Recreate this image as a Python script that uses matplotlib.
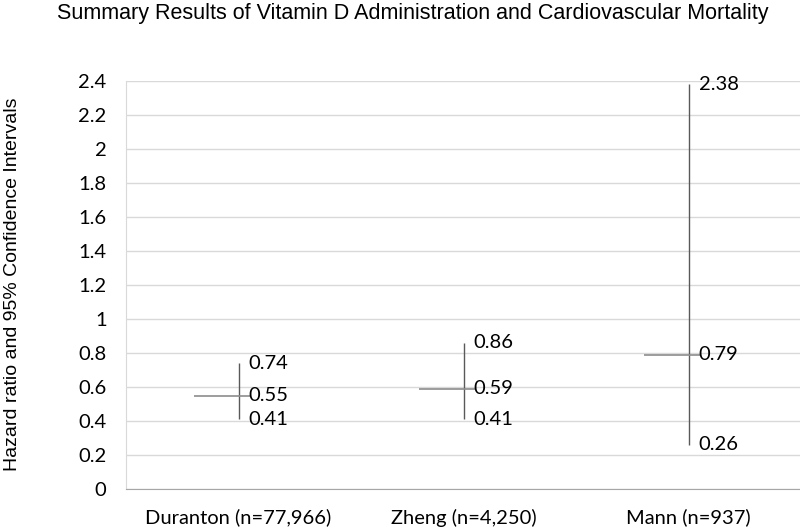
import matplotlib.pyplot as plt
import numpy as np

# Study summary values
studies = ["Duranton (n=77,966)", "Zheng (n=4,250)", "Mann (n=937)"]
hr = [0.55, 0.59, 0.79]
ci_low = [0.41, 0.41, 0.26]
ci_high = [0.74, 0.86, 2.38]
y_ticks = [0, 0.2, 0.4, 0.6, 0.8, 1, 1.2, 1.4, 1.6, 1.8, 2, 2.2, 2.4]

tick_font = "Lato"
text_font = ["Liberation Sans Narrow", "Liberation Sans"]

fig = plt.figure(figsize=(8, 5.27), dpi=100)
ax = fig.add_axes([126 / 800, 1 - 489 / 527, 675 / 800, 408 / 527])

x = np.arange(len(studies))

# High-low lines and the hazard ratio tick
ax.vlines(x, ci_low, ci_high, color="#595959", linewidth=1.0, zorder=3)
ax.hlines(hr, x - 0.2, x + 0.05, color="#8c8c8c", linewidth=1.2, zorder=3)

for xi, lo, mid, hi in zip(x, ci_low, hr, ci_high):
    for v in (lo, mid, hi):
        ax.text(xi + 0.045, v, f"{v:.2f}", ha="left", va="center",
                fontsize=14.5, family=tick_font, color="#000000", zorder=4)

ax.set_xlim(-0.5, len(studies) - 0.5)
ax.set_ylim(0, 2.4)
ax.set_yticks(y_ticks)
ax.set_yticklabels([f"{t:g}" for t in y_ticks], family=tick_font, fontsize=14.5)
ax.set_xticks(x)
ax.set_xticklabels(studies, family=tick_font, fontsize=14.5)
ax.tick_params(axis="both", length=0)
ax.tick_params(axis="y", pad=14)
ax.tick_params(axis="x", pad=14)

ax.grid(axis="y", color="#d9d9d9", linewidth=1.0)
ax.set_axisbelow(True)
for side in ["top", "right"]:
    ax.spines[side].set_visible(False)
ax.spines["left"].set_color("#d9d9d9")
ax.spines["bottom"].set_color("#a6a6a6")

fig.text(13 / 800, 1 - 284 / 527, "Hazard ratio and 95% Confidence Intervals",
         rotation=90, ha="center", va="center", fontsize=14, family=text_font)
fig.text(413 / 800, 1 - 13 / 527,
         "Summary Results of Vitamin D Administration and Cardiovascular Mortality",
         ha="center", va="center", fontsize=15.5, family=text_font)

fig.savefig("out.png", dpi=100)
